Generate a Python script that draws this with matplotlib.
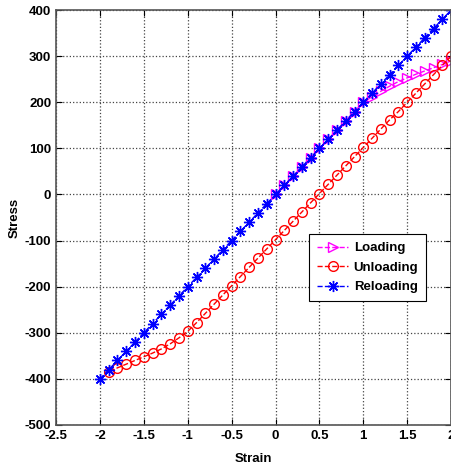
import matplotlib
matplotlib.use("Agg")
import matplotlib.pyplot as plt

# -----------------------------
# DATA
# -----------------------------
loading_strain = [0.0, 0.1, 0.2, 0.3, 0.4, 0.5, 0.6, 0.7, 0.8, 0.9, 1.0,
                  1.1, 1.2, 1.3, 1.4, 1.5, 1.6, 1.7, 1.8, 1.9, 2.0]
loading_stress = [0, 20, 40, 60, 80, 100, 120, 140, 160, 180, 200,
                  212, 224, 235, 245, 253, 261, 268, 275, 282, 290]

unloading_strain = [2.0, 1.9, 1.8, 1.7, 1.6, 1.5, 1.4, 1.3, 1.2, 1.1, 1.0,
                    0.9, 0.8, 0.7, 0.6, 0.5, 0.4, 0.3, 0.2, 0.1, 0.0,
                    -0.1, -0.2, -0.3, -0.4, -0.5, -0.6, -0.7, -0.8, -0.9, -1.0,
                    -1.1, -1.2, -1.3, -1.4, -1.5, -1.6, -1.7, -1.8, -1.9]
unloading_stress = [300, 280, 260, 240, 220, 200, 180, 162, 142, 122, 102,
                    82, 62, 42, 22, 2, -18, -38, -58, -78, -98,
                    -118, -138, -158, -178, -198, -218, -238, -258, -278, -297,
                    -311, -324, -335, -344, -352, -360, -368, -376, -385]

reloading_strain = [-2.0, -1.9, -1.8, -1.7, -1.6, -1.5, -1.4, -1.3, -1.2, -1.1, -1.0,
                    -0.9, -0.8, -0.7, -0.6, -0.5, -0.4, -0.3, -0.2, -0.1, 0.0,
                    0.1, 0.2, 0.3, 0.4, 0.5, 0.6, 0.7, 0.8, 0.9, 1.0,
                    1.1, 1.2, 1.3, 1.4, 1.5, 1.6, 1.7, 1.8, 1.9, 2.0]
reloading_stress = [-400, -380, -360, -340, -320, -300, -280, -260, -240, -220, -200,
                    -180, -160, -140, -120, -100, -80, -60, -40, -20, 0,
                    20, 40, 60, 80, 100, 120, 140, 160, 180, 200,
                    220, 240, 260, 280, 300, 320, 340, 360, 380, 400]

x_ticks = [-2.5, -2, -1.5, -1, -0.5, 0, 0.5, 1, 1.5, 2]
x_tick_labels = ["-2.5", "-2", "-1.5", "-1", "-0.5", "0", "0.5", "1", "1.5", "2"]
y_ticks = [-500, -400, -300, -200, -100, 0, 100, 200, 300, 400]

# -----------------------------
# STYLE
# -----------------------------
plt.rcParams["font.family"] = ["Liberation Sans", "DejaVu Sans"]
plt.rcParams["font.weight"] = "bold"
plt.rcParams["axes.unicode_minus"] = False

fig = plt.figure(figsize=(4.52, 4.72), dpi=100)
ax = fig.add_axes([0.124, 0.0996, 0.874, 0.879])

ax.plot(loading_strain, loading_stress, linestyle="--", color="#ff00ff",
        marker=">", markersize=7, markerfacecolor="none", linewidth=1,
        label="Loading")
ax.plot(unloading_strain, unloading_stress, linestyle="--", color="#ff0000",
        marker="o", markersize=7, markerfacecolor="none", linewidth=1,
        label="Unloading")
ax.plot(reloading_strain, reloading_stress, linestyle="--", color="#0000ff",
        marker=(8, 2, 0), markersize=8, markeredgewidth=1.0, linewidth=1,
        label="Reloading")

ax.set_xlim(-2.5, 2)
ax.set_ylim(-500, 400)
ax.set_xticks(x_ticks)
ax.set_xticklabels(x_tick_labels)
ax.set_yticks(y_ticks)

ax.grid(True, linestyle=":", color="#444444", linewidth=0.9)
ax.tick_params(direction="in", top=True, right=True, labelsize=9.5, length=4)
for s in ax.spines.values():
    s.set_color("#555555")
    s.set_linewidth(1.2)

ax.set_xlabel("Strain", fontsize=9.5, fontweight="bold", labelpad=8)
ax.set_ylabel("Stress", fontsize=9.5, fontweight="bold", labelpad=3)

leg = ax.legend(loc="upper right", bbox_to_anchor=(0.937, 0.46),
                borderaxespad=0, fancybox=False, framealpha=1,
                edgecolor="black", prop={"size": 9.5, "weight": "bold"},
                handlelength=2.4, handletextpad=0.4, borderpad=0.6,
                labelspacing=0.55)
leg.get_frame().set_linewidth(0.8)

fig.savefig("out.png", dpi=100)
